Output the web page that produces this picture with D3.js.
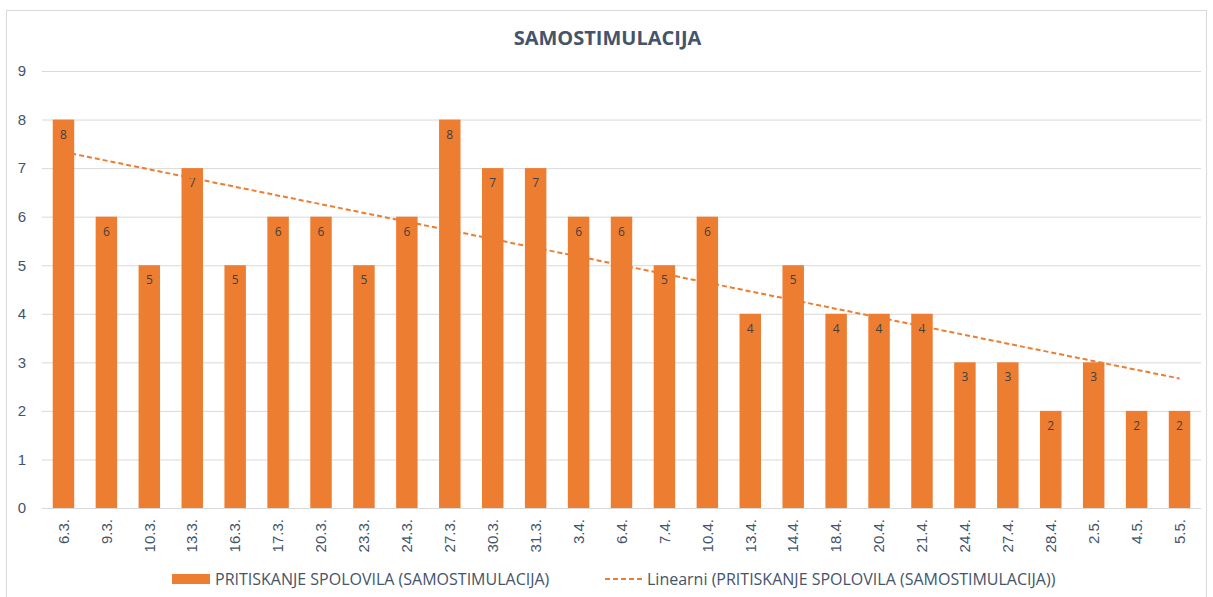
<!DOCTYPE html>
<html>
<head>
<meta charset="utf-8">
<script src="https://cdn.jsdelivr.net/npm/d3@7"></script>
<style>
  body { margin: 0; background: #fff; }
  svg { font-family: "Open Sans", "Noto Sans", sans-serif; }
</style>
</head>
<body>
<div id="chart"></div>
<script>
// dates on the x axis
var dates = ['6.3.', '9.3.', '10.3.', '13.3.', '16.3.', '17.3.', '20.3.', '23.3.', '24.3.',
  '27.3.', '30.3.', '31.3.', '3.4.', '6.4.', '7.4.', '10.4.', '13.4.', '14.4.', '18.4.',
  '20.4.', '21.4.', '24.4.', '27.4.', '28.4.', '2.5.', '4.5.', '5.5.'];
// PRITISKANJE SPOLOVILA counts
var counts = [8, 6, 5, 7, 5, 6, 6, 5, 6, 8, 7, 7, 6, 6, 5, 6, 4, 5, 4, 4, 4, 3, 3, 2, 3, 2, 2];
var yTicks = [0, 1, 2, 3, 4, 5, 6, 7, 8, 9];

var W = 1213, H = 597;
var margin = {left: 42, right: 12, top: 71, bottom: 89};
var orange = '#ED7D31', textCol = '#44546A';

var svg = d3.select('#chart').append('svg')
  .attr('width', W).attr('height', H);

// outer frame
svg.append('rect')
  .attr('x', 6.5).attr('y', 10.5)
  .attr('width', 1200).attr('height', 600)
  .attr('fill', 'none').attr('stroke', '#D9D9D9');

var x = d3.scaleBand().domain(dates)
  .range([margin.left, W - margin.right])
  .paddingInner(0.5).paddingOuter(0.25);
var y = d3.scaleLinear().domain([0, 9])
  .range([H - margin.bottom, margin.top]);

// gridlines
svg.append('g').selectAll('line')
  .data(yTicks).enter().append('line')
  .attr('x1', margin.left).attr('x2', W - margin.right)
  .attr('y1', function (d) { return y(d) + 0.5; })
  .attr('y2', function (d) { return y(d) + 0.5; })
  .attr('stroke', '#D9D9D9').attr('stroke-width', 1);

// y axis labels
var yAxis = svg.append('g')
  .attr('transform', 'translate(' + margin.left + ',0)')
  .call(d3.axisLeft(y).tickValues(yTicks).tickSize(0).tickPadding(16));
yAxis.select('.domain').remove();
yAxis.selectAll('text')
  .attr('fill', textCol).style('font-size', '15px');

// bars
svg.append('g').selectAll('rect')
  .data(counts).enter().append('rect')
  .attr('x', function (d, i) { return x(dates[i]); })
  .attr('y', function (d) { return y(d); })
  .attr('width', x.bandwidth())
  .attr('height', function (d) { return y(0) - y(d); })
  .attr('fill', orange);

// value labels
svg.append('g').selectAll('text')
  .data(counts).enter().append('text')
  .attr('x', function (d, i) { return x(dates[i]) + x.bandwidth() / 2; })
  .attr('y', function (d) { return y(d) + 19; })
  .attr('text-anchor', 'middle')
  .attr('fill', '#404040')
  .style('font-size', '12px')
  .text(function (d) { return d; });

// x axis
var xAxis = svg.append('g')
  .attr('transform', 'translate(0,' + y(0) + ')')
  .call(d3.axisBottom(x).tickSize(0));
xAxis.select('.domain').remove();
xAxis.selectAll('text')
  .attr('transform', 'rotate(-90)')
  .attr('x', -11).attr('y', 0).attr('dy', '0.35em')
  .attr('text-anchor', 'end')
  .attr('fill', textCol).style('font-size', '15px');

// linear trend (least squares over category index)
var n = counts.length;
var mx = d3.mean(counts, function (d, i) { return i; });
var my = d3.mean(counts);
var sxy = d3.sum(counts, function (d, i) { return (i - mx) * (d - my); });
var sxx = d3.sum(counts, function (d, i) { return (i - mx) * (i - mx); });
var slope = sxy / sxx, icpt = my - slope * mx;
var trend = [0, n - 1].map(function (i) { return {i: i, v: icpt + slope * i}; });
svg.append('path')
  .datum(trend)
  .attr('d', d3.line()
    .x(function (d) { return x(dates[d.i]) + x.bandwidth() / 2; })
    .y(function (d) { return y(d.v); }))
  .attr('fill', 'none').attr('stroke', orange)
  .attr('stroke-width', 2).attr('stroke-dasharray', '5,3');

// title
svg.append('text')
  .attr('x', W / 2 + 1).attr('y', 45)
  .attr('text-anchor', 'middle')
  .attr('fill', textCol)
  .style('font-size', '20px').style('font-weight', 'bold')
  .text('SAMOSTIMULACIJA');

// legend
var leg = svg.append('g');
leg.append('rect')
  .attr('x', 172).attr('y', 574).attr('width', 38).attr('height', 10)
  .attr('fill', orange);
leg.append('text')
  .attr('x', 215).attr('y', 585)
  .attr('fill', textCol).style('font-size', '16px')
  .text('PRITISKANJE SPOLOVILA (SAMOSTIMULACIJA)');
leg.append('line')
  .attr('x1', 605).attr('x2', 643).attr('y1', 579).attr('y2', 579)
  .attr('stroke', orange).attr('stroke-width', 2).attr('stroke-dasharray', '5,3');
leg.append('text')
  .attr('x', 647).attr('y', 585)
  .attr('fill', textCol).style('font-size', '16px')
  .text('Linearni (PRITISKANJE SPOLOVILA (SAMOSTIMULACIJA))');
</script>
</body>
</html>
